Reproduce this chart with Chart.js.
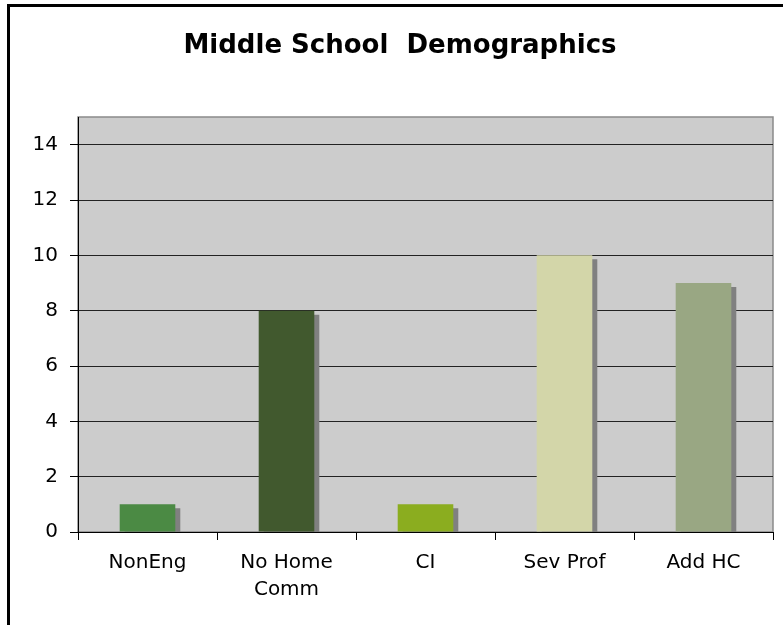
<!DOCTYPE html>
<html>
<head>
<meta charset="utf-8">
<title>Middle School Demographics</title>
<script src="https://cdn.jsdelivr.net/npm/chart.js@4"></script>
<style>
  body { margin: 0; background: #fff; }
  canvas { display: block; }
</style>
</head>
<body>
<canvas id="myChart" width="783" height="625"></canvas>
<script>
const categories = ['NonEng', ['No Home', 'Comm'], 'CI', 'Sev Prof', 'Add HC']
const counts = [1, 8, 1, 10, 9]
const barColors = ['#4b8a44', '#41592e', '#8bad1f', '#d3d6a9', '#99a783']
const yMax = 15
const yStep = 2
const yTop = 14
const chartTitle = 'Middle School  Demographics'

const font = 'Verdana, "DejaVu Sans", sans-serif'

// frame, plot fill, plot border, title and bar shadows
const excelLook = {
  id: 'excelLook',
  beforeDraw (chart) {
    const { ctx, chartArea: a } = chart
    ctx.save()
    ctx.fillStyle = '#fff'
    ctx.fillRect(0, 0, chart.width, chart.height)
    ctx.fillStyle = '#000'
    ctx.fillRect(7, 4, 3, chart.height - 4)
    ctx.fillRect(7, 4, chart.width - 7, 3)
    ctx.fillStyle = '#cccccc'
    ctx.fillRect(a.left, a.top, a.right - a.left, a.bottom - a.top)
    ctx.strokeStyle = '#8a8a8a'
    ctx.lineWidth = 1.5
    ctx.strokeRect(a.left, a.top, a.right - a.left, a.bottom - a.top)
    // title sits centred on the whole chart frame, which runs past the right edge
    ctx.fillStyle = '#000'
    ctx.font = 'bold 26px ' + font
    ctx.textAlign = 'center'
    ctx.textBaseline = 'alphabetic'
    ctx.fillText(chartTitle, 400, 53)
    ctx.restore()
  },
  beforeDatasetsDraw (chart) {
    const ctx = chart.ctx
    ctx.save()
    ctx.shadowColor = '#808080'
    ctx.shadowOffsetX = 5
    ctx.shadowOffsetY = 4
    ctx.shadowBlur = 0
  },
  afterDatasetsDraw (chart) {
    chart.ctx.restore()
  }
}

const ctx = document.getElementById('myChart').getContext('2d')
const chart = new Chart(ctx, {
  type: 'bar',
  data: {
    labels: categories,
    datasets: [{
      data: counts,
      backgroundColor: barColors,
      borderWidth: 0,
      barPercentage: 0.4,
      categoryPercentage: 1
    }]
  },
  plugins: [excelLook],
  options: {
    responsive: false,
    animation: false,
    events: [],
    layout: { padding: { left: 0, right: 10, top: 117, bottom: 0 } },
    plugins: {
      legend: { display: false },
      tooltip: { enabled: false },
      title: { display: false }
    },
    scales: {
      x: {
        afterFit: s => { s.height = 93 },
        grid: {
          offset: true,
          drawOnChartArea: false,
          drawTicks: true,
          tickLength: 8,
          color: '#000'
        },
        border: { color: '#000', width: 1 },
        ticks: {
          color: '#000',
          padding: 9,
          maxRotation: 0,
          font: { family: font, size: 20, lineHeight: 1.35 }
        }
      },
      y: {
        min: 0,
        max: yMax,
        afterFit: s => { s.width = 78 },
        afterBuildTicks: s => { s.ticks = s.ticks.filter(t => t.value <= yTop) },
        grid: {
          color: '#222',
          tickLength: 8,
          tickColor: '#000'
        },
        border: { color: '#000', width: 1 },
        ticks: {
          stepSize: yStep,
          color: '#000',
          padding: 12,
          font: { family: font, size: 20 }
        }
      }
    }
  }
})
</script>
</body>
</html>
